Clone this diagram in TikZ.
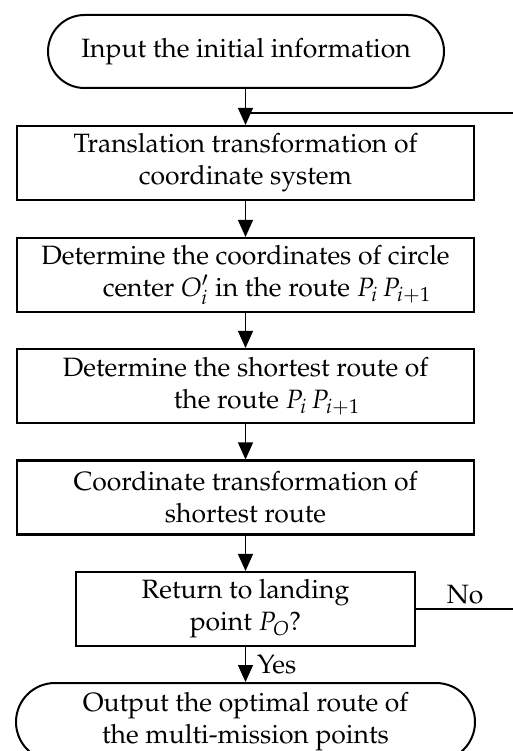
\documentclass[tikz,border=0pt]{standalone}
\usepackage[T1]{fontenc}
\usepackage{mathpazo}
\usetikzlibrary{arrows.meta}
\begin{document}
\begin{tikzpicture}[x=1pt,y=-1pt,
  font=\fontsize{26.5}{32}\selectfont,
  box/.style={draw, line width=2.1pt, minimum width=457pt, minimum height=74pt, align=center, inner sep=0pt},
  term/.style={draw, line width=2pt, align=center, inner sep=0pt},
  arr/.style={line width=1.1pt, -{Triangle[length=17pt,width=15pt]}},
  conn/.style={line width=1.1pt}]
\useasboundingbox (0,0) rectangle (513,751);
\clip (0,0) rectangle (513,751);
\node[term, minimum width=396pt, minimum height=73pt, rounded corners=36.5pt] (start) at (246,51.5) {Input the initial information};
\node[box] (b1) at (245.5,163) {Translation transformation of\\coordinate system};
\node[box] (b2) at (245.5,275) {Determine the coordinates of circle\\\hspace*{1.6em}center $O_i'$ in the route $P_i\,P_{i+1}$};
\node[box] (b3) at (245.5,386) {Determine the shortest route of\\\hspace*{1.6em}the route $P_i\,P_{i+1}$};
\node[box] (b4) at (245.5,497.5) {Coordinate transformation of\\shortest route};
\node[box, minimum width=339pt] (b5) at (245.5,609) {Return to landing\\point $P_O$?};
\node[term, minimum width=459pt, minimum height=78pt, rounded corners=39pt] (end) at (245.5,722) {Output the optimal route of\\the multi-mission points};
\coordinate (fb) at (514,113);
\coordinate (noend) at (514,609);
\draw[arr] (start.south -| b1.north) -- (b1.north);
\draw[conn] (fb) -- (fb -| b1.north);
\draw[arr] (b1) -- (b2);
\draw[arr] (b2) -- (b3);
\draw[arr] (b3) -- (b4);
\draw[arr] (b4) -- (b5);
\draw[arr] (b5) -- node[right, pos=0.5, inner sep=0pt, xshift=11pt] {Yes} (end);
\draw[conn] (b5.east) -- node[above, inner sep=4pt] {No} (noend);
\end{tikzpicture}
\end{document}
